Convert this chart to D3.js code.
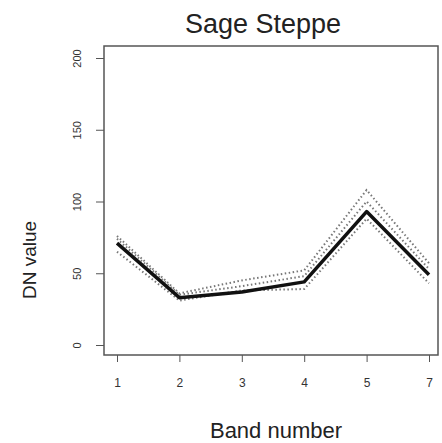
<!DOCTYPE html>
<html>
<head>
<meta charset="utf-8">
<script src="https://cdn.jsdelivr.net/npm/d3@7"></script>
<style>
  html, body { margin: 0; padding: 0; background: #fff; }
  svg { display: block; }
</style>
</head>
<body>
<svg id="chart" width="442" height="443"></svg>
<script>
// Landsat bands shown (thermal band 6 omitted)
const bands = ["1", "2", "3", "4", "5", "7"];
const yTicks = [0, 50, 100, 150, 200];

// Mean spectral profile for the class
const meanDN = [71, 33, 37, 44, 93, 49];
// Individual sample profiles
const sampleHigh = [76, 36, 45, 52, 108, 57];
const sampleMid = [74, 35, 41, 48, 100, 53];
const sampleLow = [65, 31, 38, 39, 88, 43];
const samples = [sampleHigh, sampleMid, sampleLow];

const svg = d3.select("#chart");
const frame = { left: 104, right: 438, top: 46, bottom: 355 };
const font = "Liberation Sans, Arial, sans-serif";

const x = d3.scalePoint().domain(bands).range([117, 429]);
const y = d3.scaleLinear().domain([0, 200]).range([345, 58]);

// Plot frame
svg.append("rect")
  .attr("x", frame.left).attr("y", frame.top)
  .attr("width", frame.right - frame.left).attr("height", frame.bottom - frame.top)
  .attr("fill", "none").attr("stroke", "#555").attr("stroke-width", 1.5);

// Y axis: ticks outside the frame, labels rotated
const yAxis = svg.append("g").attr("transform", `translate(${frame.left},0)`)
  .call(d3.axisLeft(y).tickValues(yTicks).tickSize(8).tickFormat(d3.format("d")));
yAxis.select(".domain").remove();
yAxis.selectAll(".tick line").attr("stroke", "#555");
yAxis.selectAll(".tick text")
  .attr("x", null).attr("dy", null)
  .attr("transform", "translate(-27,0) rotate(-90)")
  .attr("y", 4)
  .attr("text-anchor", "middle")
  .attr("font-family", font).attr("font-size", 11).attr("fill", "#333");

// X axis
const xAxis = svg.append("g").attr("transform", `translate(0,${frame.bottom})`)
  .call(d3.axisBottom(x).tickSize(7).tickPadding(16));
xAxis.select(".domain").remove();
xAxis.selectAll(".tick line").attr("stroke", "#555");
xAxis.selectAll(".tick text")
  .attr("font-family", font).attr("font-size", 12).attr("fill", "#333");

// Sample profiles (dotted)
const line = d3.line().x((d, i) => x(bands[i])).y(d => y(d));
svg.append("g").selectAll("path").data(samples).join("path")
  .attr("d", line)
  .attr("fill", "none").attr("stroke", "#777").attr("stroke-width", 2)
  .attr("stroke-dasharray", "1.5,2.5");

// Mean profile
svg.append("path").attr("d", line(meanDN))
  .attr("fill", "none").attr("stroke", "#111").attr("stroke-width", 3.5)
  .attr("stroke-linejoin", "round");

// Title and axis labels
svg.append("text").attr("x", 263).attr("y", 33).attr("text-anchor", "middle")
  .attr("font-family", font).attr("font-size", 27).attr("fill", "#222")
  .text("Sage Steppe");
svg.append("text").attr("x", 276).attr("y", 438).attr("text-anchor", "middle")
  .attr("font-family", font).attr("font-size", 22).attr("fill", "#222")
  .text("Band number");
svg.append("text").attr("transform", "translate(36,260) rotate(-90)").attr("text-anchor", "middle")
  .attr("font-family", font).attr("font-size", 19).attr("fill", "#222")
  .text("DN value");
</script>
</body>
</html>
